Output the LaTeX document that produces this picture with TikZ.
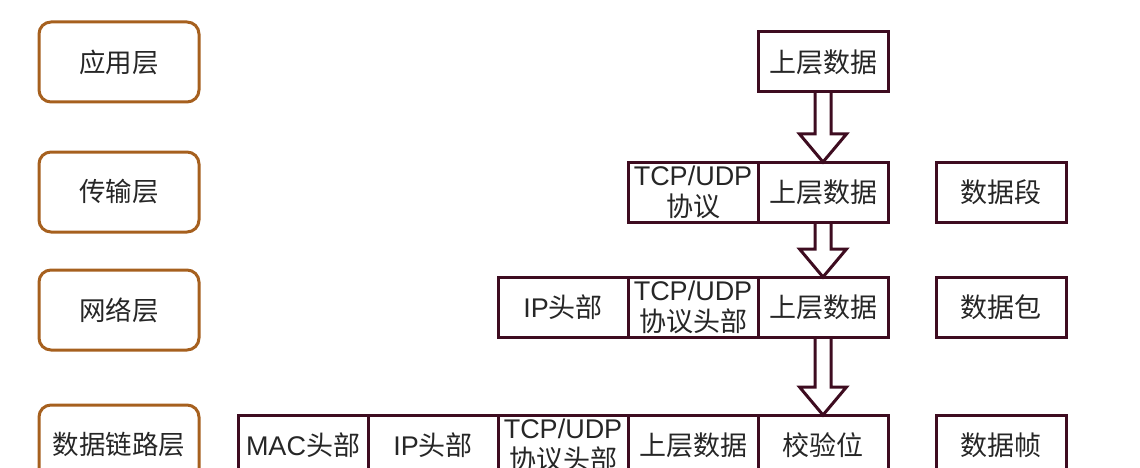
\documentclass[tikz,border=0pt]{standalone}
\usepackage{fontspec}
\setmainfont{Noto Sans CJK SC}
\newfontfamily\latin{Liberation Sans}
\usetikzlibrary{calc}

\definecolor{layerbrown}{RGB}{166,96,30}
\definecolor{cellred}{RGB}{62,12,32}

\tikzset{
  layer/.style={draw=layerbrown, line width=3pt, rounded corners=12pt,
    minimum width=160pt, minimum height=80pt, inner sep=0pt,
    text=black!85, font=\fontsize{26.5}{30}\selectfont},
  cell/.style={draw=cellred, line width=3pt, minimum width=130pt,
    minimum height=60pt, inner sep=0pt, outer sep=0pt, align=center,
    text=black!85, font=\fontsize{27}{31}\selectfont},
  fatarrow/.style={draw=cellred, line width=3pt, line join=miter},
}

% 空心粗箭头：从上方结点指向下方结点
\newcommand\fatdown[2]{%
  \draw[fatarrow] let \p1=(#1.south), \p2=(#2.north) in
    (\x1-8pt,\y1) -- (\x1-8pt,\y2+28pt) -- (\x1-23.5pt,\y2+28pt) -- (\x1,\y2)
    -- (\x1+23.5pt,\y2+28pt) -- (\x1+8pt,\y2+28pt) -- (\x1+8pt,\y1);}

\begin{document}
\begin{tikzpicture}[x=1pt, y=-1pt]
\useasboundingbox (0,0) rectangle (1140,468);
% 左侧各层
\foreach \nm/\y/\txt in {app/62/应用层, trans/192/传输层, net/310/网络层, link/445/数据链路层}
  \node[layer] (\nm) at (119,\y) {\txt};
% 应用层
\node[cell] (r1data) at (823,62) {上层数据};
% 传输层
\node[cell] (r2tcp) at (693,192) {{\latin TCP/UDP}\\协议};
\node[cell] (r2data) at (823,192) {上层数据};
\node[cell] (r2name) at (1001,192) {数据段};
% 网络层
\node[cell] (r3ip) at (563,307) {{\latin IP}头部};
\node[cell] (r3tcp) at (693,307) {{\latin TCP/UDP}\\协议头部};
\node[cell] (r3data) at (823,307) {上层数据};
\node[cell] (r3name) at (1001,307) {数据包};
% 数据链路层
\node[cell] (r4mac) at (303,445) {{\latin MAC}头部};
\node[cell] (r4ip) at (433,445) {{\latin IP}头部};
\node[cell] (r4tcp) at (563,445) {{\latin TCP/UDP}\\协议头部};
\node[cell] (r4data) at (693,445) {上层数据};
\node[cell] (r4chk) at (823,445) {校验位};
\node[cell] (r4name) at (1001,445) {数据帧};
% 封装箭头
\fatdown{r1data}{r2data}
\fatdown{r2data}{r3data}
\fatdown{r3data}{r4chk}
\end{tikzpicture}
\end{document}
